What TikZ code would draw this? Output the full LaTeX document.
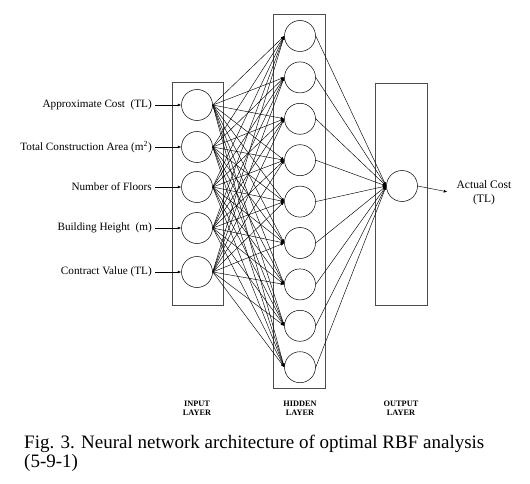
\documentclass[tikz,border=0pt]{standalone}
\usepackage{fontspec}
\setmainfont{Liberation Serif}
\usepackage{tikz}
\usetikzlibrary{arrows.meta, positioning}

\begin{document}
\begin{tikzpicture}[x=1pt, y=-1pt, on grid,
        neuron/.style={circle, draw, line width=0.5pt, minimum size=31pt, inner sep=0pt},
        layerbox/.style={draw=black!70, line width=0.6pt},
        link/.style={line width=0.45pt, -{Latex[length=3.5pt, width=3pt]}},
        feature/.style={font=\fontsize{11.2}{13}\selectfont, anchor=east, inner sep=3pt},
        layername/.style={font=\fontsize{8.3}{9}\selectfont\bfseries, align=center}]
        \useasboundingbox (0,0) rectangle (530,484);

        % layer frames
        \draw[layerbox] (172,82) rectangle (223,305);
        \draw[layerbox] (273,14) rectangle (325,388);
        \draw[layerbox] (375,83) rectangle (427,305);

        % input layer
        \node[neuron] (i1) at (197,105) {};
        \node[neuron] (i2) at (197,147) {};
        \node[neuron] (i3) at (197,187) {};
        \node[neuron] (i4) at (197,228) {};
        \node[neuron] (i5) at (197,272) {};

        \node[feature] (f1) at (155,105) {Approximate Cost~ (TL)};
        \node[feature] (f2) at (155,147) {Total Construction Area (m\textsuperscript{2})};
        \node[feature] (f3) at (155,187) {Number of Floors};
        \node[feature] (f4) at (155,228) {Building Height~ (m)};
        \node[feature] (f5) at (155,272) {Contract Value (TL)};

        % hidden layer
        \node[neuron] (h1) at (300,36) {};
        \foreach \j [count=\k from 2] in {1,...,8}
            \node[neuron, below=41.4pt of h\j] (h\k) {};

        % output layer
        \node[neuron] (o1) at (402,186) {};
        \node[font=\fontsize{11.5}{14}\selectfont, align=center] (target) at (484,193) {Actual Cost\\(TL)};

        \foreach \i in {1,...,5} {
            \draw[link] (f\i.east) -- (i\i.west);
            \foreach \k in {1,...,9}
                \draw[link] (i\i.east) -- (h\k.west);
        }
        \foreach \k in {1,...,9}
            \draw[link] (h\k.east) -- (o1.west);
        \draw[link, shorten >=6pt] (o1.east) -- (target.west);

        \node[layername] (inlabel)  at (197,408) {INPUT\\LAYER};
        \node[layername] (hidlabel) at (300,408) {HIDDEN\\LAYER};
        \node[layername] (outlabel) at (401,408) {OUTPUT\\LAYER};

        \node[anchor=base west, align=left, inner sep=0pt,
              font=\fontsize{19}{14.5}\selectfont] (caption) at (24,467)
              {Fig. 3. Neural network architecture of optimal RBF analysis\\(5-9-1)};
\end{tikzpicture}
\end{document}
